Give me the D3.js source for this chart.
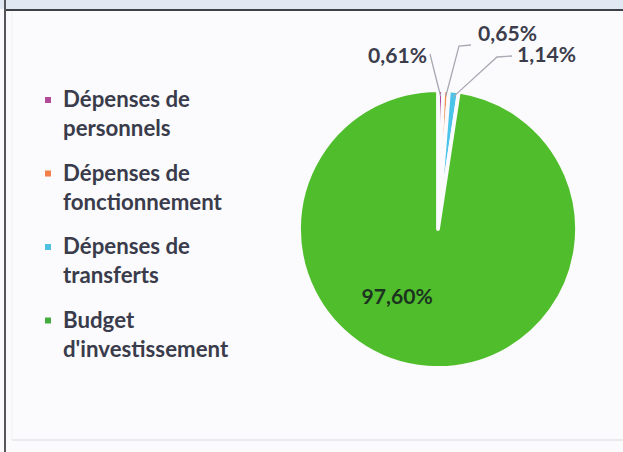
<!DOCTYPE html>
<html><head><meta charset="utf-8">
<script src="https://cdn.jsdelivr.net/npm/d3@7"></script>
<style>html,body{margin:0;padding:0;background:#fbfbfd;}svg{display:block;}</style>
</head><body>
<svg id="c" width="623" height="452"></svg>
<script>
const categories = ["Dépenses de personnels", "Dépenses de fonctionnement", "Dépenses de transferts", "Budget d'investissement"];
const legendLines = [["Dépenses de", "personnels"], ["Dépenses de", "fonctionnement"], ["Dépenses de", "transferts"], ["Budget", "d'investissement"]];
const values = [0.61, 0.65, 1.14, 97.60];
const valueLabels = ["0,61%", "0,65%", "1,14%", "97,60%"];
const sliceColors = ["#b5489a", "#f08a4e", "#4cc3e8", "#50be2c"];
const legendColors = ["#b04a9b", "#f3804a", "#4dc0e0", "#45ad3d"];

const svg = d3.select("#c");
// frame
svg.append("rect").attr("x",0).attr("y",0).attr("width",623).attr("height",452).attr("fill","#fbfbfd");
svg.append("rect").attr("x",0).attr("y",0).attr("width",623).attr("height",9).attr("fill","#dfe8f3");
svg.append("line").attr("x1",5).attr("x2",623).attr("y1",10).attr("y2",10).attr("stroke","#3f4148").attr("stroke-width",2);
svg.append("line").attr("x1",5).attr("x2",5).attr("y1",0).attr("y2",452).attr("stroke","#55575c").attr("stroke-width",2);
svg.append("line").attr("x1",12).attr("x2",623).attr("y1",440).attr("y2",440).attr("stroke","#e2e4e8").attr("stroke-width",1.5);
svg.append("line").attr("x1",12).attr("x2",12).attr("y1",12).attr("y2",440).attr("stroke","#eff0f3").attr("stroke-width",1);

const font = "Lato, 'Open Sans', 'DejaVu Sans', sans-serif";
function fitSize(text, fs0, target) {
  const t = svg.append("text").attr("font-family", font).attr("font-weight","bold").attr("font-size", fs0).text(text);
  const w = t.node().getComputedTextLength();
  t.remove();
  return fs0 * target / w;
}
// pie
const cx = 438, cy = 229, R = 139;
const pie = d3.pie().sort(null).value(d => d)(values);
const arc = d3.arc().innerRadius(0).outerRadius(R);
const g = svg.append("g").attr("transform", `translate(${cx},${cy})`);
g.selectAll("path").data(pie).join("path")
  .attr("d", arc).attr("fill", (d,i) => sliceColors[i])
  .attr("stroke", "#fbfbfd").attr("stroke-width", 3.8).attr("stroke-linejoin","round");

// leader lines & labels for small slices
const labFs = fitSize("0,65%", 18, 59);
const labelPos = [[427, 63, "end"], [478, 41, "start"], [517, 62, "start"]];
const elbow = [[430, 54], [459, 46], [497, 57]];
const endH = [[430, 54], [471, 45], [512, 56]];
pie.slice(0,3).forEach((d,i) => {
  const a = (d.startAngle + d.endAngle)/2;
  const r0 = R - 6;
  const p0 = [cx + r0*Math.sin(a), cy - r0*Math.cos(a)];
  const pts = [p0, elbow[i], endH[i]];
  svg.append("path").attr("d", d3.line()(pts)).attr("fill","none").attr("stroke","#a9a9b4").attr("stroke-width",1.3);
  svg.append("text").attr("x", labelPos[i][0]).attr("y", labelPos[i][1]).attr("text-anchor", labelPos[i][2])
    .attr("font-family", font).attr("font-weight","bold").attr("font-size", labFs).attr("fill","#3c3d4c").text(valueLabels[i]);
});
// big label (placed lower-left inside the big slice)
const bigA = Math.PI + 0.535, bigR = 80;
svg.append("text").attr("x", cx + bigR*Math.sin(bigA)).attr("y", cy - bigR*Math.cos(bigA) + 6)
  .attr("text-anchor","middle").attr("font-family", font).attr("font-weight","bold").attr("font-size", labFs)
  .attr("fill","#1c3320").text(valueLabels[3]);

// legend
const lg = svg.append("g");
const legendFs = fitSize("fonctionnement", 20, 159);
legendLines.forEach((lines, i) => {
  const y0 = 107 + i*73.5;
  lg.append("rect").attr("x", 45).attr("y", y0 - 10).attr("width", 6).attr("height", 6).attr("fill", legendColors[i]);
  lines.forEach((t, j) => {
    lg.append("text").attr("x", 63).attr("y", y0 + j*29).attr("font-family", font).attr("font-weight","bold")
      .attr("font-size", legendFs).attr("fill","#3a3b4b").text(t);
  });
});
</script>
</body></html>
